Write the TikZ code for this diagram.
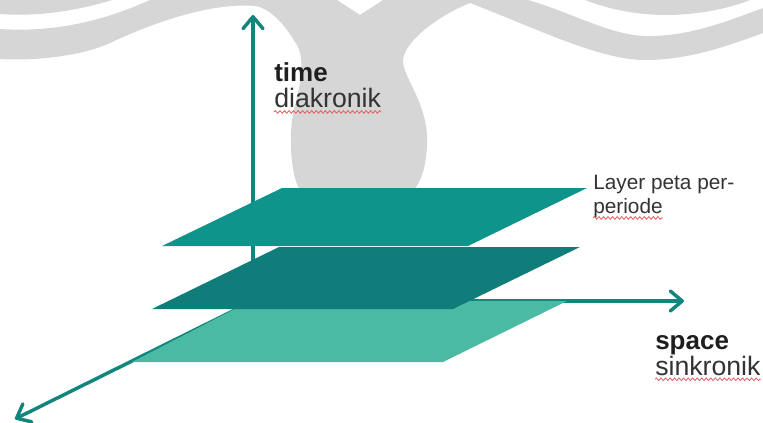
\documentclass[tikz,border=0pt]{standalone}
\usepackage{xcolor}
\usepackage{tikz}
\usepackage{fontspec}
\setmainfont{Liberation Sans}
\usetikzlibrary{arrows.meta,positioning,calc,decorations.pathmorphing}
\definecolor{wmgray}{HTML}{D6D6D6}
\definecolor{axisteal}{HTML}{13857F}
\definecolor{layertop}{HTML}{0E948B}
\definecolor{layermid}{HTML}{117D7B}
\definecolor{layerlow}{HTML}{4BBAA3}
\definecolor{textdark}{HTML}{1E1E1E}
\definecolor{textgray}{HTML}{333333}
\definecolor{spellred}{HTML}{E06060}
\tikzstyle{axis} = [draw=axisteal, line width=2.6pt, -{Straight Barb[length=9pt,width=15pt,round]}]
\tikzstyle{watermark} = [fill=wmgray, draw=none]
\tikzstyle{headword} = [font=\fontsize{19.5}{19.5}\selectfont\bfseries, text=textdark, inner sep=0pt]
\tikzstyle{subword} = [font=\fontsize{20}{20}\selectfont, text=textgray, inner sep=0pt]
\tikzstyle{note} = [font=\fontsize{15.6}{18}\selectfont, text=textgray, inner sep=0pt]
\tikzstyle{squiggle} = [draw=spellred, line width=0.6pt, decorate,
    decoration={snake, amplitude=1pt, segment length=3.4pt}]

\begin{document}
\begin{tikzpicture}[x=0.75pt, y=-0.75pt]
\useasboundingbox (0,0) rectangle (763,422);

% background logo
\fill[watermark] (0,0) -- (0,14) .. controls (40,17) and (80,10) .. (112,0) -- cycle;
\fill[watermark] (0,29) .. controls (60,33) and (110,18) .. (150,0) -- (337,0) -- (360,15) -- (383,0) -- (470,0) -- (470,3)
    .. controls (440,15) and (405,40) .. (403,60) .. controls (402,75) and (425,100) .. (427,135)
    .. controls (428,165) and (420,185) .. (413,190) -- (300,190)
    .. controls (290,175) and (288,130) .. (295,105) .. controls (302,80) and (305,55) .. (295,42)
    .. controls (285,25) and (270,8) .. (255,6) .. controls (220,3) and (170,15) .. (110,43)
    .. controls (80,57) and (30,61) .. (0,59) -- cycle;
\fill[watermark] (470,0) -- (528,0) .. controls (570,12) and (610,35) .. (645,36)
    .. controls (690,37) and (730,20) .. (763,8) -- (763,33)
    .. controls (730,45) and (690,60) .. (645,60) .. controls (600,60) and (540,30) .. (470,3) -- cycle;
\fill[watermark] (585,0) .. controls (610,10) and (640,15) .. (665,15) .. controls (700,15) and (730,8) .. (750,0) -- cycle;

% axes
\coordinate (origin) at (253,301);
\coordinate (timetip) at (253,15);
\coordinate (spacetip) at (684,301);
\coordinate (depthtip) at (15,419);
\draw[axis] (origin) -- (timetip);
\draw[axis] (origin) -- (spacetip);
\draw[axis] (origin) -- (depthtip);

% layers per period
\fill[layerlow] (250,301) -- (567,301) -- (443,362) -- (132,362) -- cycle;
\fill[layermid] (279,247) -- (580,247) -- (453,309) -- (152,309) -- cycle;
\fill[layertop] (282,188) -- (587,188) -- (468,246) -- (162,246) -- cycle;

% labels
\node[headword, anchor=base west] (timeword) at (274,81) {time};
\node[subword, anchor=base west] (diakronik) at (274,107) {diakronik};
\node[headword, anchor=base west] (spaceword) at (655,349) {space};
\node[subword, anchor=base west] (sinkronik) at (655,375) {sinkronik};
\node[note, anchor=base west] (layernote) at (593,189) {Layer peta per-};
\node[note, anchor=base west] (periode) at (593,213) {periode};

\draw[squiggle] ([yshift=-3.7pt]diakronik.base west) -- ([yshift=-3.7pt]diakronik.base east);
\draw[squiggle] ([yshift=-3.7pt]periode.base west) -- ([yshift=-3.7pt]periode.base east);
\draw[squiggle] ([yshift=-3.2pt]sinkronik.base west) -- ([yshift=-3.2pt]sinkronik.base east);
\end{tikzpicture}
\end{document}
